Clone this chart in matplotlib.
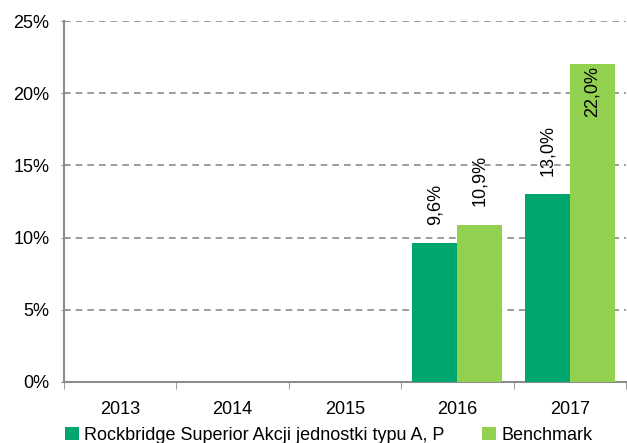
import matplotlib
matplotlib.use("Agg")
import matplotlib.pyplot as plt
import numpy as np

plt.rcParams['font.family'] = ['Liberation Sans', 'DejaVu Sans']

years = ["2013", "2014", "2015", "2016", "2017"]
fund = [None, None, None, 9.6, 13.0]
bench = [None, None, None, 10.9, 22.0]
fund_name = "Rockbridge Superior Akcji jednostki typu A, P"
bench_name = "Benchmark"
yticks = [0, 5, 10, 15, 20, 25]

c_fund = "#00A66E"
c_bench = "#92D050"
gray = "#8C8C8C"
FS = 13

fig = plt.figure(figsize=(6.27, 4.43), dpi=100)
ax = fig.add_axes([64/627, 1-382/443, (626-64)/627, (382-21)/443])

x = np.arange(len(years))
w = 0.4
fv = [v if v is not None else 0 for v in fund]
bv = [v if v is not None else 0 for v in bench]
b1 = ax.bar(x - w/2, fv, w, color=c_fund, label=fund_name, zorder=3)
b2 = ax.bar(x + w/2, bv, w, color=c_bench, label=bench_name, zorder=3)

def fmt(v):
    return f"{v:.1f}".replace(".", ",") + "%"

for xi, v in zip(x, fund):
    if v is not None:
        ax.text(xi - w/2, v + 1.3, fmt(v), rotation=90, ha='center', va='bottom', fontsize=FS)
for xi, v in zip(x, bench):
    if v is not None:
        if v > 20:
            ax.text(xi + w/2, v - 0.1, fmt(v), rotation=90, ha='center', va='top', fontsize=FS)
        else:
            ax.text(xi + w/2, v + 1.3, fmt(v), rotation=90, ha='center', va='bottom', fontsize=FS)

ax.set_xlim(-0.5, len(years) - 0.5)
ax.set_ylim(0, 25)
ax.set_yticks(yticks)
ax.set_yticklabels([f"{t}%" for t in yticks], fontsize=FS)
ax.set_xticks(x)
ax.set_xticklabels(years, fontsize=FS)
ax.tick_params(axis='x', length=0, pad=14)
ax.set_xticks(np.arange(-0.5, len(years) + 0.5, 1), minor=True)
ax.tick_params(axis='x', which='minor', length=5, color=gray, direction='out')
ax.tick_params(axis='y', length=5, color=gray, direction='inout', pad=8)

for s in ['top', 'right']:
    ax.spines[s].set_visible(False)
for s in ['left', 'bottom']:
    ax.spines[s].set_color(gray)
    ax.spines[s].set_linewidth(1.5)

ax.yaxis.grid(True, linestyle=(0, (4, 3)), color=gray, linewidth=1.2, zorder=0)
ax.set_axisbelow(True)

fig.legend(handles=[b1, b2], loc='lower left', bbox_to_anchor=(58/627, -0.018), ncol=2,
           frameon=False, fontsize=FS, handlelength=0.75, handleheight=0.75,
           handletextpad=0.3, columnspacing=2.1, borderaxespad=0.0)

fig.savefig("out.png", dpi=100)
